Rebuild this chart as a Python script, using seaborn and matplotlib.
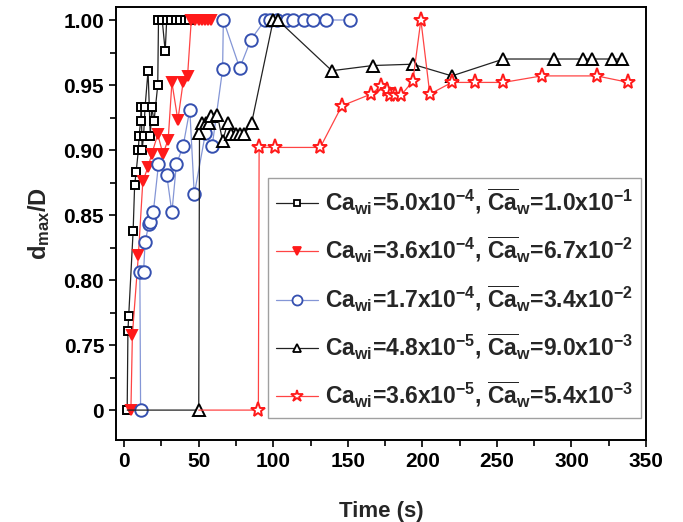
import numpy as np
import matplotlib
matplotlib.use('Agg')
import matplotlib.pyplot as plt
from matplotlib.lines import Line2D
from matplotlib.ticker import FixedLocator, FixedFormatter
import seaborn as sns

# Ca_wi=5.0e-4 (black squares)
sq_t = [2, 2.5, 3, 6, 7, 8, 9.5, 10, 11, 11.5, 12, 13, 14, 16, 17.5, 18.5, 20,
        22.5, 23, 25.5, 27.5, 28.5, 31.5, 35, 37.5, 40.5, 43.5]
sq_d = [0, 0.761, 0.772, 0.838, 0.873, 0.883, 0.90, 0.911, 0.922, 0.933, 0.90,
        0.911, 0.933, 0.961, 0.911, 0.933, 0.922, 0.95, 1.0, 1.0, 0.976, 1.0,
        1.0, 1.0, 1.0, 1.0, 1.0]

# Ca_wi=3.6e-4 (red filled triangles)
tdn_t = [4.5, 5.5, 9.5, 12.5, 16, 18.5, 22.5, 26, 29.5, 32, 36, 39.5, 42.5,
         45, 47.5, 50, 52, 54, 56, 58]
tdn_d = [0, 0.758, 0.819, 0.876, 0.887, 0.897, 0.912, 0.897, 0.908, 0.952,
         0.923, 0.952, 0.957, 1.0, 1.0, 1.0, 1.0, 1.0, 1.0, 1.0]

# Ca_wi=1.7e-4 (blue circles)
ci_t = [11, 10.5, 13, 14, 16.5, 17.5, 19.5, 23, 28.5, 32, 35, 39.5, 44, 47,
        54.5, 59, 66, 66.5, 77.5, 85, 94.5, 98, 102.5, 109, 113.5, 120.3,
        126.6, 135.5, 151.6]
ci_d = [0, 0.806, 0.806, 0.829, 0.843, 0.845, 0.852, 0.889, 0.881, 0.852,
        0.889, 0.903, 0.931, 0.866, 0.913, 0.903, 0.962, 1.0, 0.963, 0.985,
        1.0, 1.0, 1.0, 1.0, 1.0, 1.0, 1.0, 1.0, 1.0]

# Ca_wi=4.8e-5 (black open triangles), first point only carries the zero line
tup_t = [2, 50, 50.5, 52, 55, 57, 58.5, 62.5, 66, 69.5, 71.5, 75, 78, 80.5,
         85.5, 100, 103, 139.3, 166.8, 193.4, 219.8, 254.4, 288, 308, 314,
         327, 333.8]
tup_d = [0, 0, 0.913, 0.921, 0.921, 0.921, 0.926, 0.927, 0.907, 0.921, 0.912,
         0.912, 0.912, 0.912, 0.921, 1.0, 1.0, 0.961, 0.965, 0.966, 0.957,
         0.970, 0.970, 0.970, 0.970, 0.970, 0.970]

# Ca_wi=3.6e-5 (red open stars), first point only carries the zero line
st_t = [50, 90, 90.5, 101.3, 131.5, 146, 165.5, 172.2, 176.6, 178.4, 181.8,
        185.6, 193.6, 199, 205, 219.8, 235, 254.4, 280, 317, 338.2]
st_d = [0, 0, 0.902, 0.902, 0.902, 0.934, 0.943, 0.949, 0.946, 0.942, 0.942,
        0.942, 0.953, 1.0, 0.943, 0.952, 0.952, 0.952, 0.957, 0.957, 0.952]

wi_mant = ['5.0', '3.6', '1.7', '4.8', '3.6']
wi_exp = ['-4', '-4', '-4', '-5', '-5']
w_mant = ['1.0', '6.7', '3.4', '9.0', '5.4']
w_exp = ['-1', '-2', '-2', '-3', '-3']

y_ticks = [0, 0.75, 0.80, 0.85, 0.90, 0.95, 1.00]
y_labels = ['0', '0.75', '0.80', '0.85', '0.90', '0.95', '1.00']
y_minor = [0.375, 0.775, 0.825, 0.875, 0.925, 0.975]


def fwd(y):
    y = np.asarray(y, dtype=float)
    return np.where(y >= 0.75, y, 0.70 + y * 0.05 / 0.75)


def inv(z):
    z = np.asarray(z, dtype=float)
    return np.where(z >= 0.75, z, (z - 0.70) * 0.75 / 0.05)


sns.set_style('ticks')
plt.rcParams['font.family'] = ['Liberation Sans', 'DejaVu Sans']
plt.rcParams['font.weight'] = 'bold'
plt.rcParams['mathtext.fontset'] = 'custom'
plt.rcParams['mathtext.rm'] = 'Liberation Sans:bold'
plt.rcParams['mathtext.it'] = 'Liberation Sans:italic:bold'
plt.rcParams['mathtext.bf'] = 'Liberation Sans:bold'
plt.rcParams['mathtext.default'] = 'rm'

fig = plt.figure(figsize=(6.83, 5.22), dpi=100)
ax = fig.add_axes([116 / 683, 1 - 440 / 522, 530 / 683, 433 / 522])

styles = [
    dict(t=sq_t, d=sq_d, lc='#222222', mk='s', mec='black', mfc='white', ms=5.5, skip=0),
    dict(t=tdn_t, d=tdn_d, lc='#ff4444', mk='v', mec='#ff1a1a', mfc='#ff1a1a', ms=7.5, skip=0),
    dict(t=ci_t, d=ci_d, lc='#8496d6', mk='o', mec='#3550b0', mfc='white', ms=9, skip=0),
    dict(t=tup_t, d=tup_d, lc='#222222', mk='^', mec='black', mfc='white', ms=8, skip=1),
    dict(t=st_t, d=st_d, lc='#ff4444', mk='*', mec='#ff1a1a', mfc='white', ms=11, skip=1),
]

handles = []
for i, s in enumerate(styles):
    sns.lineplot(x=s['t'], y=s['d'], sort=False, estimator=None, ax=ax,
                 color=s['lc'], linewidth=0.9, marker=s['mk'],
                 markeredgecolor=s['mec'], markerfacecolor=s['mfc'],
                 markersize=s['ms'], markeredgewidth=1.4,
                 markevery=list(range(s['skip'], len(s['t']))))
    lab = (r'Ca$_{\mathrm{wi}}$=' + wi_mant[i] + r'x10$^{\mathrm{' + wi_exp[i] + r'}}$, '
           r'$\overline{\mathrm{Ca}}_{\mathrm{w}}$=' + w_mant[i] + r'x10$^{\mathrm{' + w_exp[i] + r'}}$')
    handles.append(Line2D([], [], color=s['lc'], linewidth=0.9, marker=s['mk'],
                          markeredgecolor=s['mec'], markerfacecolor=s['mfc'],
                          markersize=s['ms'] * 0.8, markeredgewidth=1.3, label=lab))

ax.set_yscale('function', functions=(fwd, inv))
ax.set_ylim(-0.345, 1.01)
ax.set_xlim(-5.5, 350)
ax.yaxis.set_major_locator(FixedLocator(y_ticks))
ax.yaxis.set_major_formatter(FixedFormatter(y_labels))
ax.yaxis.set_minor_locator(FixedLocator(y_minor))
ax.set_xticks(range(0, 351, 50))
ax.set_xticks(range(0, 351, 25), minor=True)

ax.tick_params(which='both', direction='out', width=1.2, colors='black',
               labelsize=15, top=False, right=False)
ax.tick_params(which='major', length=5)
ax.tick_params(which='minor', length=4)
for sp in ax.spines.values():
    sp.set_visible(True)
    sp.set_color('black')
    sp.set_linewidth(1.4)

ax.set_xlabel('Time (s)', fontsize=16, fontweight='bold', labelpad=22)
ax.set_ylabel(r'd$_{\mathrm{max}}$/D', fontsize=17, fontweight='bold', labelpad=8)

leg = ax.legend(handles=handles, loc='lower right', bbox_to_anchor=(0.99, 0.05),
                borderaxespad=0, fontsize=16.5, frameon=True, fancybox=False,
                edgecolor='#888888', handlelength=1.8, handletextpad=0.3,
                labelspacing=0.78, borderpad=0.35)
leg.get_frame().set_linewidth(1.0)

fig.savefig('out.png', dpi=100)
